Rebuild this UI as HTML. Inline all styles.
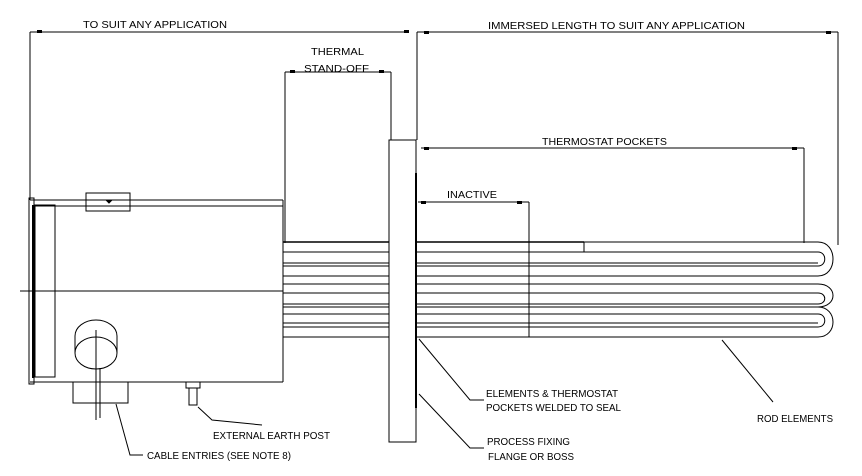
<!DOCTYPE html>
<html><head><meta charset="utf-8"><style>html,body{margin:0;padding:0;background:#fff}svg{display:block}</style></head><body>
<svg width="862" height="476" viewBox="0 0 862 476" xmlns="http://www.w3.org/2000/svg" font-family="Liberation Sans, sans-serif" font-size="10" fill="none" stroke="#000" stroke-width="1">
<g>
<!-- dimension lines -->
<line x1="30" y1="32" x2="30" y2="200"/>
<line x1="30" y1="32" x2="409" y2="32"/>
<line x1="417" y1="32" x2="838" y2="32"/>
<line x1="838" y1="32" x2="838" y2="245"/>
<line x1="417" y1="32" x2="417" y2="140"/>
<line x1="285" y1="72" x2="391" y2="72"/>
<line x1="285" y1="72" x2="285" y2="243"/>
<line x1="391" y1="72" x2="391" y2="140"/>
<line x1="421" y1="148" x2="804" y2="148"/>
<line x1="804" y1="148" x2="804" y2="243"/>
<line x1="418" y1="202" x2="529" y2="202"/>
<line x1="529" y1="202" x2="529" y2="337"/>
<g fill="#000" stroke="none">
<rect x="37" y="30" width="5" height="3"/><rect x="404" y="30" width="5" height="3"/>
<rect x="424" y="31" width="5" height="3"/><rect x="826" y="31" width="5" height="3"/>
<rect x="290" y="70" width="5" height="3"/><rect x="379" y="70" width="5" height="3"/>
<rect x="424" y="147" width="5" height="3"/><rect x="792" y="147" width="5" height="3"/>
<rect x="421" y="201" width="5" height="3"/><rect x="517" y="201" width="5" height="3"/>
</g>
<!-- enclosure -->
<line x1="30" y1="200" x2="283" y2="200"/>
<line x1="33" y1="206" x2="283" y2="206"/>
<line x1="283" y1="200" x2="283" y2="382"/>
<line x1="30" y1="382" x2="283" y2="382"/>
<rect x="29" y="198" width="5" height="186"/>
<line x1="33" y1="205" x2="33" y2="378" stroke-width="2"/>
<rect x="35" y="205" width="20" height="172"/>
<rect x="86" y="193" width="44" height="18"/>
<path d="M107 201 l2 2 l2 -2z" fill="#000"/>
<line x1="20" y1="291" x2="283" y2="291"/>
<!-- cable entry -->
<path d="M75 353 L75 336 A21 16 0 0 1 117 336 L117 353"/>
<ellipse cx="96" cy="353" rx="21" ry="16"/>
<line x1="96" y1="330" x2="96" y2="420"/>
<line x1="100" y1="368" x2="100" y2="418"/>
<rect x="73" y="382" width="55" height="21"/>
<path d="M116 404 L130 455 L143 455"/>
<!-- earth post -->
<rect x="186" y="382" width="14" height="6"/>
<rect x="189" y="388" width="8" height="17"/>
<path d="M198 407 L212 420 L262 425"/>
<!-- tubes -->
<line x1="283" y1="242" x2="389" y2="242" stroke-width="1.5"/>
<g>
<line x1="283" y1="252" x2="389" y2="252"/>
<line x1="283" y1="263" x2="389" y2="263"/>
<line x1="283" y1="266" x2="389" y2="266"/>
<line x1="283" y1="276" x2="389" y2="276"/>
<line x1="283" y1="284" x2="389" y2="284"/>
<line x1="283" y1="293" x2="389" y2="293"/>
<line x1="283" y1="304" x2="389" y2="304"/>
<line x1="283" y1="307" x2="389" y2="307"/>
<line x1="283" y1="314" x2="389" y2="314"/>
<line x1="283" y1="323" x2="389" y2="323"/>
<line x1="283" y1="327" x2="389" y2="327"/>
<line x1="283" y1="337" x2="389" y2="337"/>
</g>
<!-- flange -->
<rect x="389" y="140" width="27" height="302"/>
<line x1="416" y1="173" x2="416" y2="408" stroke-width="2"/>
<!-- pocket -->
<line x1="416" y1="242" x2="584" y2="242" stroke-width="1.5"/>
<line x1="584" y1="242" x2="584" y2="252"/>
<line x1="584" y1="242" x2="818" y2="242"/>
<!-- rods right side -->
<g>
<line x1="416" y1="252" x2="818" y2="252"/>
<line x1="416" y1="263" x2="818" y2="263"/>
<line x1="416" y1="266" x2="818" y2="266"/>
<line x1="416" y1="276" x2="818" y2="276"/>
<line x1="416" y1="284" x2="818" y2="284"/>
<line x1="416" y1="293" x2="818" y2="293"/>
<line x1="416" y1="304" x2="818" y2="304"/>
<line x1="416" y1="307" x2="818" y2="307"/>
<line x1="416" y1="314" x2="818" y2="314"/>
<line x1="416" y1="323" x2="818" y2="323"/>
<line x1="416" y1="327" x2="818" y2="327"/>
<line x1="416" y1="337" x2="818" y2="337"/>
</g>
<path d="M818 242 C838 242 838 276 818 276"/>
<path d="M818 252 C827 252 827 266 818 266"/>
<path d="M818 284 C838 284 838 307 818 307"/>
<path d="M818 293 C827 293 827 304 818 304"/>
<path d="M818 307 C838 307 838 337 818 337"/>
<path d="M818 314 C827 314 827 327 818 327"/>
<!-- leaders -->
<path d="M419 339 L470 400 L484 400"/>
<path d="M419 394 L470 448 L484 448"/>
<path d="M722 340 L773 402"/>
</g>
<g fill="#000" stroke="none" font-size="10.5">
<text x="83" y="28" textLength="144" lengthAdjust="spacingAndGlyphs">TO SUIT ANY APPLICATION</text>
<text x="488" y="29" textLength="257" lengthAdjust="spacingAndGlyphs">IMMERSED LENGTH TO SUIT ANY APPLICATION</text>
<text x="311" y="55" textLength="53" lengthAdjust="spacingAndGlyphs">THERMAL</text>
<text x="304" y="72" textLength="65" lengthAdjust="spacingAndGlyphs">STAND-OFF</text>
<text x="542" y="145" textLength="125" lengthAdjust="spacingAndGlyphs">THERMOSTAT POCKETS</text>
<text x="447" y="198" textLength="50" lengthAdjust="spacingAndGlyphs">INACTIVE</text>
<text x="486" y="397" textLength="132" lengthAdjust="spacingAndGlyphs">ELEMENTS &amp; THERMOSTAT</text>
<text x="486" y="411" textLength="135" lengthAdjust="spacingAndGlyphs">POCKETS WELDED TO SEAL</text>
<text x="487" y="445" textLength="83" lengthAdjust="spacingAndGlyphs">PROCESS FIXING</text>
<text x="488" y="460" textLength="86" lengthAdjust="spacingAndGlyphs">FLANGE OR BOSS</text>
<text x="757" y="422" textLength="76" lengthAdjust="spacingAndGlyphs">ROD ELEMENTS</text>
<text x="213" y="439" textLength="117" lengthAdjust="spacingAndGlyphs">EXTERNAL EARTH POST</text>
<text x="147" y="459" textLength="144" lengthAdjust="spacingAndGlyphs">CABLE ENTRIES (SEE NOTE 8)</text>
</g>
</svg>
</body></html>
